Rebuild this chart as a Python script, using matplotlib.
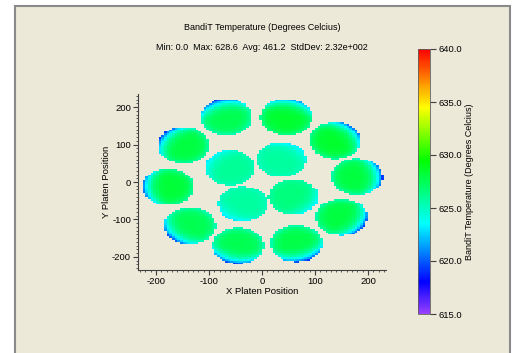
import numpy as np
import matplotlib
matplotlib.use('Agg')
import matplotlib.pyplot as plt
from matplotlib.colors import LinearSegmentedColormap, Normalize
from matplotlib.ticker import MultipleLocator, FixedLocator
import matplotlib.patches as mpatches

plt.rcParams['font.family'] = 'Liberation Sans'
plt.rcParams['axes.unicode_minus'] = False

# centros de las obleas (mm)
puck_x = [-60, 37, 59, -36, -67, 46, 138, 179, 150, 65, -45, -136, -177, -148]
puck_y = [38, 60, -40, -59, 173, 173, 111, 14, -94, -164, -170, -117, -13, 98]
puck_r = [47, 47, 47, 47, 49, 49, 49, 49, 49, 49, 49, 49, 49, 49]
# temperatura en el centro y en el borde frio de cada oblea
puck_peak = [626.0, 625.8, 626.6, 625.8, 627.6, 628.4, 628.4, 628.0, 628.0, 627.8, 627.6, 627.6, 628.2, 628.0]
puck_edge = [622.8, 622.8, 623.0, 622.8, 619.0, 620.5, 619.5, 619.0, 619.0, 619.0, 619.0, 619.5, 619.5, 619.0]

cbar_ticks = [615.0, 620.0, 625.0, 630.0, 635.0, 640.0]
titulo = 'BandiT Temperature (Degrees Celcius)'
subtitulo = 'Min: 0.0  Max: 628.6  Avg: 461.2  StdDev: 2.32e+002'

# escala de color tipo arcoiris
c_vals = [615.0, 618.0, 623.5, 629.5, 634.5, 640.0]
c_cols = ['#9a40ff', '#0000ff', '#00ffff', '#00ff00', '#ffff00', '#ff0000']
vmin, vmax = 615.0, 640.0
cmap = LinearSegmentedColormap.from_list(
    'bandit', [((v - vmin) / (vmax - vmin), c) for v, c in zip(c_vals, c_cols)])

# malla de la platina
paso = 5.0
gx = np.arange(-240, 240 + paso, paso)
gy = np.arange(-240, 240 + paso, paso)
X, Y = np.meshgrid(gx[:-1] + paso / 2, gy[:-1] + paso / 2)
T = np.full(X.shape, np.nan)
for cx, cy, r, tp, te in zip(puck_x, puck_y, puck_r, puck_peak, puck_edge):
    dx, dy = X - cx, Y - cy
    rr = np.hypot(dx, dy) / r
    dist_c = np.hypot(cx, cy)
    ux, uy = cx / dist_c, cy / dist_c
    cosang = (dx * ux + dy * uy) / (np.hypot(dx, dy) + 1e-9)
    lado = np.clip(cosang, 0, None) ** 1.5
    caida = tp - te
    val = tp - caida * (0.3 * rr ** 5 + 0.7 * lado * rr ** 2.5)
    dentro = rr <= 1.0
    T[dentro] = val[dentro]
T = np.ma.masked_invalid(T)

fondo = '#ece9d8'
fig = plt.figure(figsize=(5.13, 3.53), dpi=100, facecolor='white')
marco = mpatches.Rectangle((14.5 / 513, -0.1), (510 - 14.5) / 513, 1.1 - 5.5 / 353,
                           transform=fig.transFigure, facecolor=fondo,
                           edgecolor='#8a8a8a', lw=1.5, zorder=-10)
fig.patches.append(marco)

ax = fig.add_axes([138 / 513, 1 - 270 / 353, 248 / 513, 176 / 353])
ax.set_facecolor('none')
norm = Normalize(vmin=vmin, vmax=vmax)
ax.pcolormesh(gx, gy, T, cmap=cmap, norm=norm, shading='flat')
ax.set_xlim(-234, 234)
ax.set_ylim(-235, 235)
for s in ['top', 'right']:
    ax.spines[s].set_visible(False)
for s in ['left', 'bottom']:
    ax.spines[s].set_color('#404040')
    ax.spines[s].set_linewidth(0.8)
ax.xaxis.set_major_locator(FixedLocator([-200, -100, 0, 100, 200]))
ax.yaxis.set_major_locator(FixedLocator([-200, -100, 0, 100, 200]))
ax.xaxis.set_minor_locator(MultipleLocator(10))
ax.yaxis.set_minor_locator(MultipleLocator(10))
ax.tick_params(which='major', direction='out', length=3.5, width=0.8, color='#404040',
               labelsize=6.8, pad=1.5)
ax.tick_params(which='minor', direction='out', length=1.5, width=0.6, color='#404040')
ax.set_xlabel('X Platen Position', fontsize=6.8, labelpad=0.5)
ax.set_ylabel('Y Platen Position', fontsize=6.8, labelpad=1)

fig.text(262 / 513, 1 - 28 / 353, titulo, ha='center', va='center', fontsize=6.5)
fig.text(262 / 513, 1 - 47 / 353, subtitulo, ha='center', va='center', fontsize=6.5)

cax = fig.add_axes([418 / 513, 1 - 314 / 353, 12 / 513, 265 / 353])
cb = fig.colorbar(plt.cm.ScalarMappable(norm=norm, cmap=cmap), cax=cax)
cb.set_ticks(cbar_ticks)
cb.set_ticklabels(['%.1f' % t for t in cbar_ticks])
cb.outline.set_edgecolor('#606060')
cb.outline.set_linewidth(0.6)
cax.tick_params(direction='out', length=4, width=0.8, color='#404040', labelsize=6.8, pad=2)
cb.set_label(titulo, fontsize=6.5, labelpad=2)

fig.savefig('out.png', dpi=100, facecolor='white')
